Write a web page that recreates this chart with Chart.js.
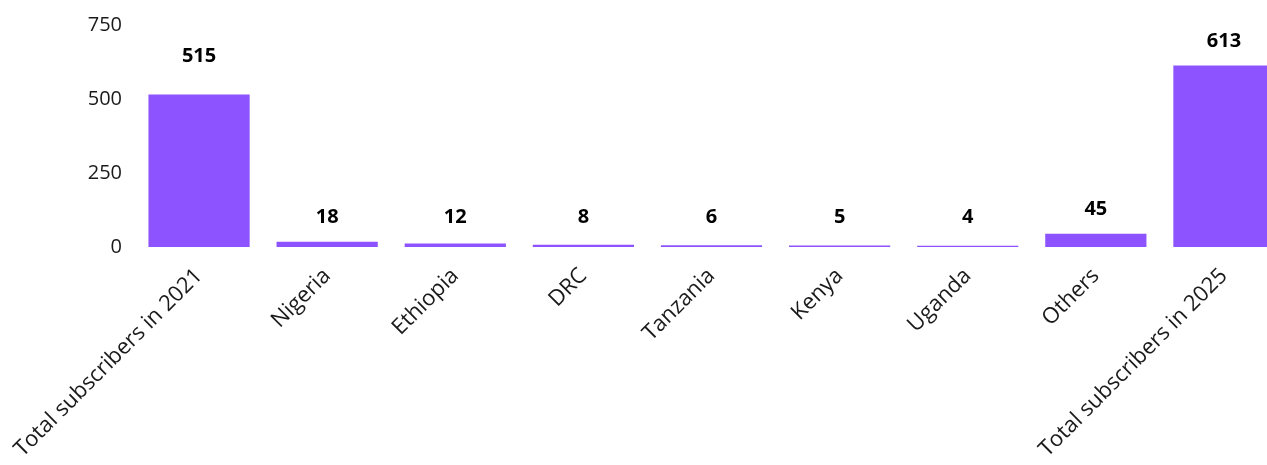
<!DOCTYPE html>
<html lang="en">
<head>
  <meta charset="UTF-8">
  <title>Subscribers 2021-2025</title>
  <script src="https://cdn.jsdelivr.net/npm/chart.js"></script>
  <style>
    html, body {
      margin: 0;
      padding: 0;
      background: #ffffff;
      overflow: hidden;
    }
    #chart-container {
      width: 1288px;
      height: 465px;
    }
  </style>
</head>
<body>

  <div id="chart-container">
    <canvas id="subsChart"></canvas>
  </div>

  <script>
    const categories = [
      'Total subscribers in 2021', 'Nigeria', 'Ethiopia', 'DRC', 'Tanzania',
      'Kenya', 'Uganda', 'Others', 'Total subscribers in 2025'
    ];
    const subscribers = [515, 18, 12, 8, 6, 5, 4, 45, 613];
    const yTicks = [0, 250, 500, 750];

    const FONT = "'Open Sans', Lato, sans-serif";

    // value labels above each bar
    const valueLabels = {
      id: 'valueLabels',
      afterDatasetsDraw(chart) {
        const ctx = chart.ctx;
        const meta = chart.getDatasetMeta(0);
        ctx.save();
        ctx.font = "bold 20px " + FONT;
        ctx.fillStyle = '#000';
        ctx.textAlign = 'center';
        ctx.textBaseline = 'middle';
        meta.data.forEach((bar, i) => {
          let y = Math.min(bar.y - 24, 217);
          if (subscribers[i] > 400 && subscribers[i] < 600) y = bar.y - 38;
          ctx.fillText(String(subscribers[i]), bar.x, y);
        });
        ctx.restore();
      }
    };

    const ctx = document.getElementById('subsChart').getContext('2d');
    new Chart(ctx, {
      type: 'bar',
      data: {
        labels: categories,
        datasets: [{
          data: subscribers,
          backgroundColor: '#8c53ff',
          barPercentage: 0.79,
          categoryPercentage: 1.0
        }]
      },
      options: {
        responsive: true,
        maintainAspectRatio: false,
        animation: false,
        layout: { padding: { top: 25, right: 0, left: 0, bottom: 0 } },
        plugins: {
          legend: { display: false },
          tooltip: { enabled: false }
        },
        scales: {
          x: {
            grid: { display: false },
            border: { display: false },
            ticks: {
              color: '#1a1a1a',
              font: { family: FONT, size: 22 },
              minRotation: 45,
              maxRotation: 45,
              padding: 8
            },
            afterFit(scale) { scale.height = 218; }
          },
          y: {
            min: 0,
            max: 750,
            grid: { display: false },
            border: { display: false },
            afterBuildTicks(scale) {
              scale.ticks = yTicks.map(v => ({ value: v }));
            },
            ticks: {
              color: '#1a1a1a',
              font: { family: FONT, size: 20 },
              padding: 5
            },
            afterFit(scale) { scale.width = 135; }
          }
        }
      },
      plugins: [valueLabels]
    });
  </script>

</body>
</html>
